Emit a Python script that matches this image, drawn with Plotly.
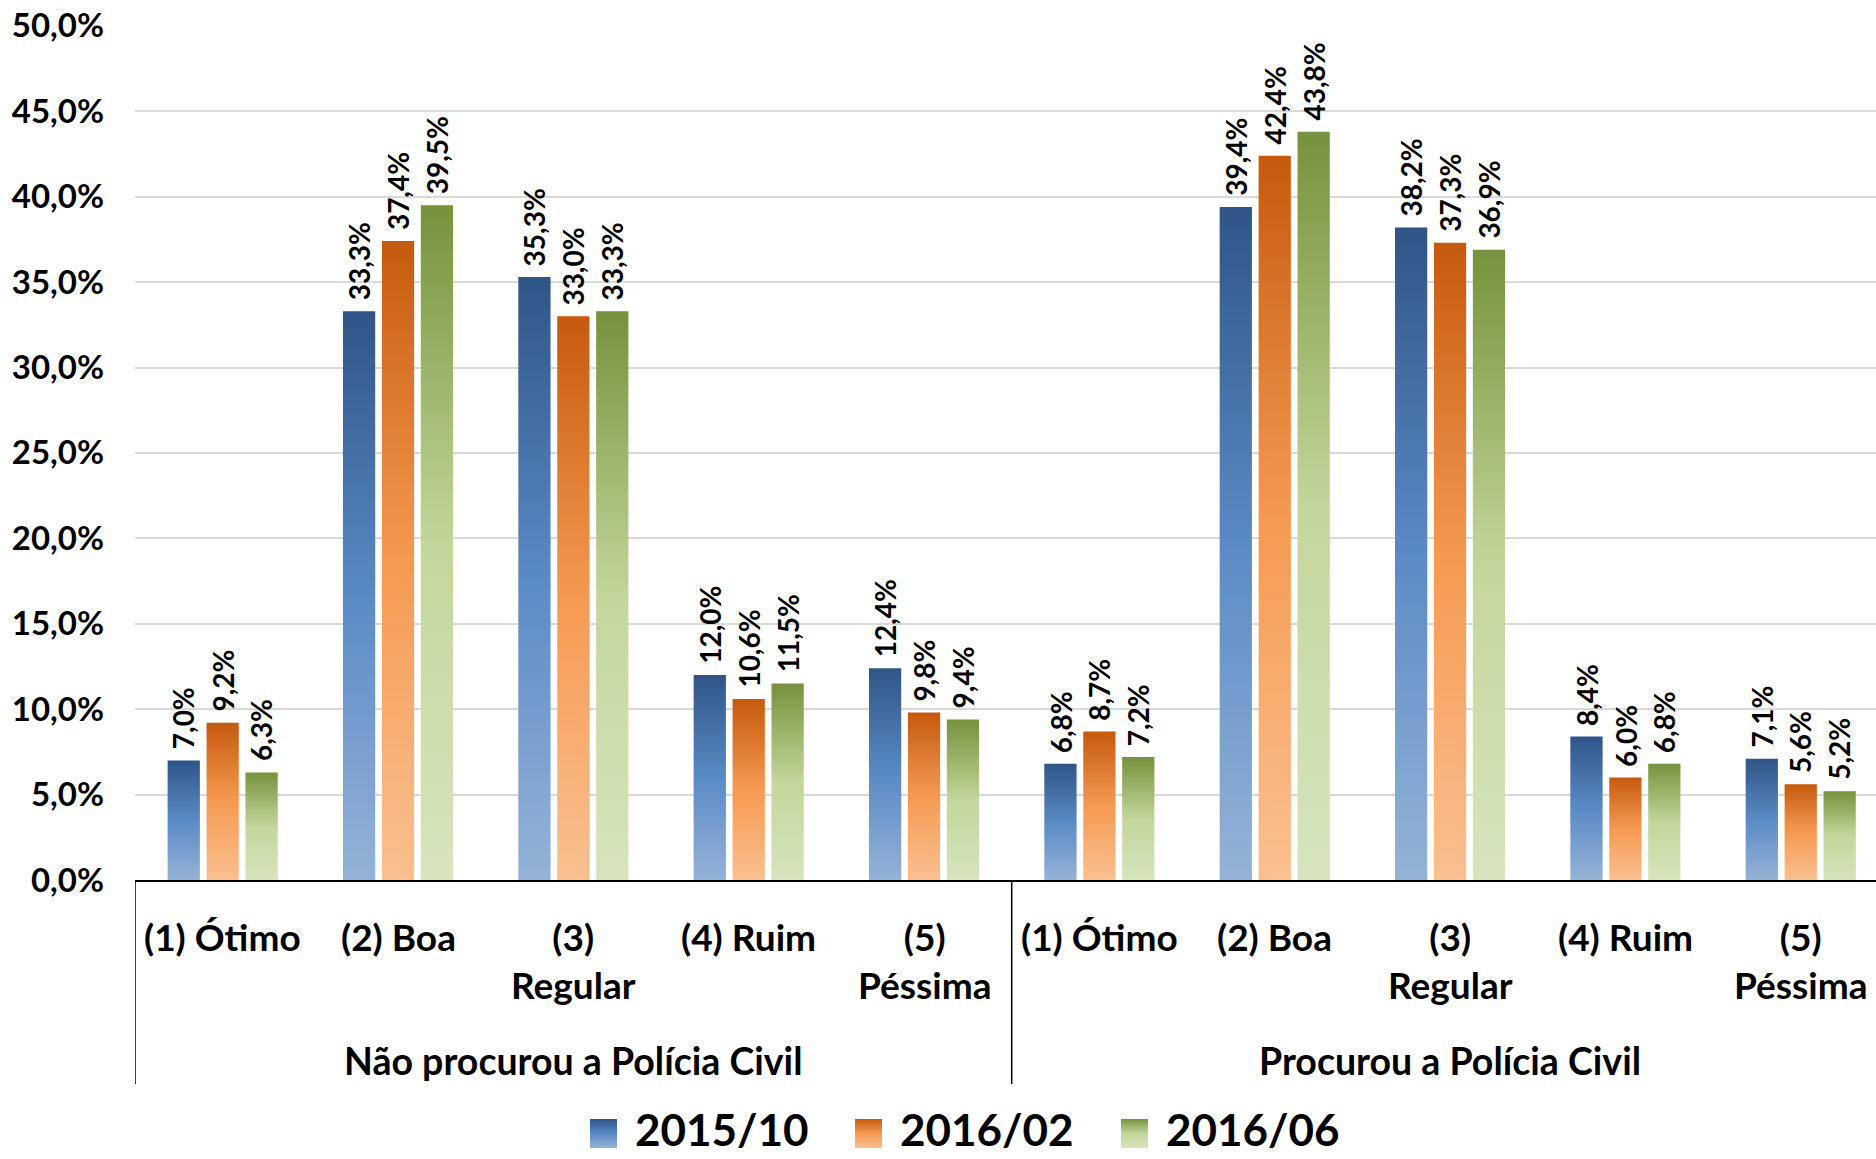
import plotly.graph_objects as go

# ---- data -------------------------------------------------------------
categories = ["(1) Ótimo", "(2) Boa", "(3)<br>Regular", "(4) Ruim", "(5)<br>Péssima",
              "(1) Ótimo", "(2) Boa", "(3)<br>Regular", "(4) Ruim", "(5)<br>Péssima"]
groups = ["Não procurou a Polícia Civil", "Procurou a Polícia Civil"]
series_names = ["2015/10", "2016/02", "2016/06"]

v_2015_10 = [7.0, 33.3, 35.3, 12.0, 12.4, 6.8, 39.4, 38.2, 8.4, 7.1]
v_2016_02 = [9.2, 37.4, 33.0, 10.6, 9.8, 8.7, 42.4, 37.3, 6.0, 5.6]
v_2016_06 = [6.3, 39.5, 33.3, 11.5, 9.4, 7.2, 43.8, 36.9, 6.8, 5.2]

y_ticks = [0, 5, 10, 15, 20, 25, 30, 35, 40, 45, 50]

# ---- styling ----------------------------------------------------------
W, H = 1876, 1159
PLOT_L, PLOT_T, PLOT_B = 135, 25, 880

# vertical gradients: bottom (light) -> middle -> top (dark)
gradients = [
    [[0, "#95B3D7"], [0.5, "#5A8AC6"], [1, "#2F5586"]],
    [[0, "#FAC090"], [0.5, "#F59A52"], [1, "#C55A0E"]],
    [[0, "#D7E4BD"], [0.5, "#C3D69B"], [1, "#76923C"]],
]
series_values = [v_2015_10, v_2016_02, v_2016_06]

offsets = [-0.222, 0.0, 0.222]
bar_w = 0.184

FONT = "Lato"


def fx(px):
    return px / W


def fy(py):
    return 1 - py / H


def pct(v):
    return f"{v:.1f}%".replace(".", ",")


fig = go.Figure()
annotations = []

for s, (name, vals) in enumerate(zip(series_names, series_values)):
    for i, v in enumerate(vals):
        xc = i + offsets[s]
        x0, x1 = xc - bar_w / 2, xc + bar_w / 2
        fig.add_trace(go.Scatter(
            x=[x0, x0, x1, x1, x0], y=[0, v, v, 0, 0],
            mode="lines", fill="toself",
            line=dict(width=0, color="rgba(0,0,0,0)"),
            fillgradient=dict(type="vertical", colorscale=gradients[s]),
            showlegend=False, hoverinfo="skip", name=name,
        ))
        annotations.append(dict(
            x=xc, y=v, xref="x", yref="y", text=pct(v), showarrow=False,
            textangle=-90, xanchor="center", yanchor="bottom", yshift=9,
            font=dict(family=FONT, size=28, color="black", weight="bold"),
        ))

# category labels below the axis
for i, c in enumerate(categories):
    annotations.append(dict(
        x=i, y=fy(912), xref="x", yref="paper", text=c, showarrow=False,
        xanchor="center", yanchor="top",
        font=dict(family=FONT, size=37, color="black", weight="bold"),
    ))

# group labels
for g, label in enumerate(groups):
    annotations.append(dict(
        x=2 + 5 * g, y=fy(1060), xref="x", yref="paper", text=label, showarrow=False,
        xanchor="center", yanchor="middle",
        font=dict(family=FONT, size=37.5, color="black", weight="bold"),
    ))

# legend: gradient swatches on a full-figure helper axis + text
legend_swatch_x = [590, 855, 1121]
sw_w, sw_top, sw_bot = 27, 1119, 1148
for s, name in enumerate(series_names):
    lx = legend_swatch_x[s]
    fig.add_trace(go.Scatter(
        x=[lx, lx, lx + sw_w, lx + sw_w, lx], y=[sw_bot, sw_top, sw_top, sw_bot, sw_bot],
        xaxis="x2", yaxis="y2", mode="lines", fill="toself",
        line=dict(width=0, color="rgba(0,0,0,0)"),
        fillgradient=dict(type="vertical", colorscale=gradients[s]),
        showlegend=False, hoverinfo="skip",
    ))
    annotations.append(dict(
        x=fx(lx + sw_w + 16), y=fy(1129), xref="paper", yref="paper", text=name,
        showarrow=False, xanchor="left", yanchor="middle",
        font=dict(family=FONT, size=44, color="black", weight="bold"),
    ))

shapes = []
for xd in [-0.5, 4.5]:
    shapes.append(dict(type="line", xref="x", yref="paper", x0=xd, x1=xd,
                       y0=fy(PLOT_B), y1=fy(1084), line=dict(color="black", width=1.5)))

x_end = (W - PLOT_L) / 175.34 - 0.5

fig.update_layout(
    width=W, height=H,
    margin=dict(l=0, r=0, t=0, b=0, autoexpand=False),
    paper_bgcolor="white", plot_bgcolor="rgba(0,0,0,0)",
    showlegend=False,
    xaxis=dict(domain=[fx(PLOT_L), 1], range=[-0.5, x_end], showgrid=False,
               zeroline=False, showticklabels=False, showline=True,
               linecolor="black", linewidth=2, fixedrange=True),
    yaxis=dict(domain=[fy(PLOT_B), fy(PLOT_T)], range=[0, 50.05],
               tickvals=y_ticks, ticktext=[pct(t) for t in y_ticks],
               showgrid=True, gridcolor="#D9D9D9", gridwidth=1.5,
               zeroline=False, showline=False, ticks="",
               ticklabelstandoff=30,
               tickfont=dict(family=FONT, size=33, color="black", weight="bold")),
    xaxis2=dict(domain=[0, 1], range=[0, W], visible=False, anchor="y2"),
    yaxis2=dict(domain=[0, 1], range=[H, 0], visible=False, anchor="x2"),
    annotations=annotations,
    shapes=shapes,
)

fig.write_html("out.html")
